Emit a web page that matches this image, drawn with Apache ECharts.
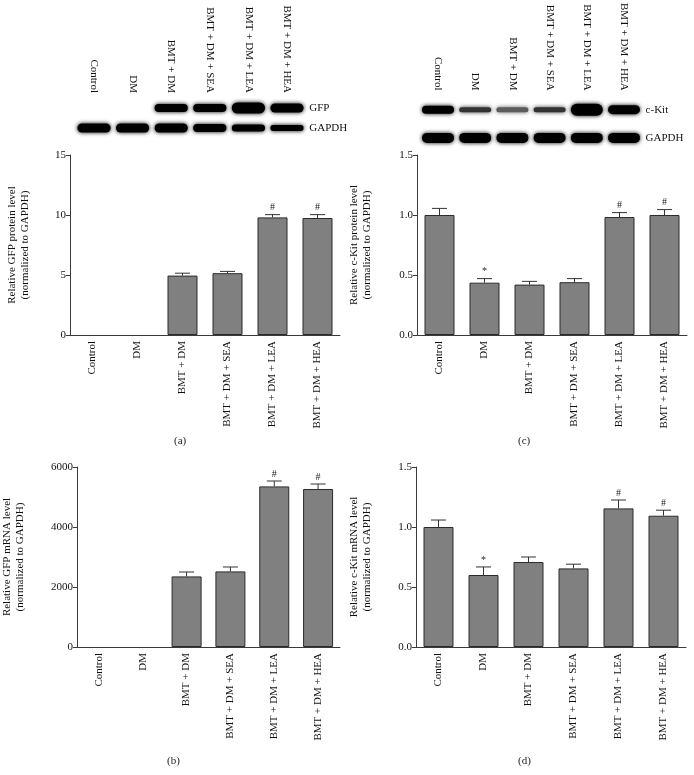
<!DOCTYPE html>
<html><head><meta charset="utf-8">
<script src="https://cdn.jsdelivr.net/npm/echarts@6/dist/echarts.min.js"></script>
<style>html,body{margin:0;padding:0;background:#fff}#c{width:694px;height:775px}</style>
</head><body><div id="c"></div>
<script>
// ---------- data ----------
var groups = ['Control', 'DM', 'BMT + DM', 'BMT + DM + SEA', 'BMT + DM + LEA', 'BMT + DM + HEA'];

// (a) GFP protein
var gfpProteinMean = [0, 0, 4.95, 5.15, 9.8, 9.75];
var gfpProteinTop  = [0, 0, 5.15, 5.3, 10.03, 10.03];
var gfpProteinSig  = ['', '', '', '', '#', '#'];
// (c) c-Kit protein
var kitProteinMean = [1.0, 0.436, 0.42, 0.44, 0.983, 1.0];
var kitProteinTop  = [1.055, 0.47, 0.447, 0.47, 1.02, 1.045];
var kitProteinSig  = ['', '*', '', '', '#', '#'];
// (b) GFP mRNA
var gfpMrnaMean = [0, 0, 2353, 2520, 5353, 5267];
var gfpMrnaTop  = [0, 0, 2500, 2667, 5533, 5433];
var gfpMrnaSig  = ['', '', '', '', '#', '#'];
// (d) c-Kit mRNA
var kitMrnaMean = [1.0, 0.6, 0.708, 0.655, 1.155, 1.094];
var kitMrnaTop  = [1.058, 0.667, 0.75, 0.69, 1.225, 1.14];
var kitMrnaSig  = ['', '*', '', '', '#', '#'];

// western blot band intensity (0-1) and thickness (px)
var blotARows = ['GAPDH', 'GFP'];
var blotAGfpIntensity   = [0, 0, 1, 1, 1, 1];
var blotAGfpThick       = [0, 0, 8, 8, 11, 9];
var blotAGapdhIntensity = [1, 1, 1, 1, 1, 1];
var blotAGapdhThick     = [9, 9, 9, 8, 7, 6];
var blotCRows = ['GAPDH', 'c-Kit'];
var blotCKitIntensity   = [1, 0.75, 0.55, 0.75, 1, 1];
var blotCKitThick       = [8, 5, 5, 5, 12, 9];
var blotCGapdhIntensity = [1, 1, 1, 1, 1, 1];
var blotCGapdhThick     = [10, 10, 10, 10, 10, 10];

var yTicksA = [0, 5, 10, 15];
var yTicksB = [0, 2000, 4000, 6000];
var yTicksC = [0, 0.5, 1.0, 1.5];

// ---------- styling ----------
var FONT = 'Liberation Serif';
var AX = '#3a3a3a';
var chart = echarts.init(document.getElementById('c'));

var grids = [
  {left: 70, top: 155, width: 270, height: 180},   // a
  {left: 417, top: 155, width: 270, height: 180},  // c
  {left: 70, top: 467, width: 270, height: 180},   // b
  {left: 416, top: 467, width: 270, height: 180},  // d
  {left: 74.7, top: 98, width: 231.6, height: 40}, // blot a
  {left: 419.4, top: 92, width: 223.2, height: 60} // blot c
];

function barX(gi) {
  return {
    type: 'category', gridIndex: gi, data: groups,
    axisLine: {lineStyle: {color: AX, width: 1}},
    axisTick: {alignWithLabel: true, length: 4, lineStyle: {color: AX}},
    axisLabel: {rotate: 90, fontFamily: FONT, fontSize: 11, color: '#111', margin: 6, interval: 0}
  };
}
function barY(gi, ticks, name, gap, dec) {
  var iv = ticks[1] - ticks[0];
  return {
    type: 'value', gridIndex: gi, min: ticks[0], max: ticks[ticks.length - 1], interval: iv,
    name: name, nameLocation: 'middle', nameGap: gap, nameRotate: 90,
    nameTextStyle: {fontFamily: FONT, fontSize: 11, color: '#111', lineHeight: 13},
    axisLine: {show: true, lineStyle: {color: AX, width: 1}},
    axisTick: {show: true, length: 4, lineStyle: {color: AX}},
    axisLabel: {fontFamily: FONT, fontSize: 11, color: '#111', margin: 4,
      formatter: function (v) { return dec ? v.toFixed(dec) : String(v); }},
    splitLine: {show: false}
  };
}
function barSeries(gi, mean) {
  return {
    type: 'bar', xAxisIndex: gi, yAxisIndex: gi, barWidth: 30,
    data: mean.map(function (v) { return {value: v, itemStyle: {borderWidth: v === 0 ? 0 : 1}}; }),
    itemStyle: {color: '#808080', borderColor: '#2b2b2b', borderWidth: 1},
    silent: true, animation: false
  };
}
function errSeries(gi, mean, top, sig) {
  var data = mean.map(function (m, i) { return [i, m, top[i], sig[i]]; });
  return {
    type: 'custom', xAxisIndex: gi, yAxisIndex: gi, data: data, silent: true, animation: false,
    z: 5,
    renderItem: function (params, api) {
      var i = api.value(0), m = api.value(1), t = api.value(2);
      var s = data[params.dataIndex][3];
      var children = [];
      if (t > m) {
        var p0 = api.coord([i, m]), p1 = api.coord([i, t]);
        children.push({type: 'line', shape: {x1: p0[0], y1: p0[1], x2: p1[0], y2: p1[1]}, style: {stroke: '#333', lineWidth: 1}});
        children.push({type: 'line', shape: {x1: p1[0] - 7.5, y1: p1[1], x2: p1[0] + 7.5, y2: p1[1]}, style: {stroke: '#333', lineWidth: 1}});
        if (s) {
          children.push({type: 'text', style: {text: s, x: p1[0], y: p1[1] - 2, textAlign: 'center', textVerticalAlign: 'bottom',
            font: '10px "' + FONT + '"', fill: '#222'}});
        }
      }
      return {type: 'group', children: children};
    }
  };
}
function blotX(gi) {
  return {
    type: 'category', gridIndex: gi, data: groups, position: 'top',
    axisLine: {show: false}, axisTick: {show: false},
    axisLabel: {rotate: 90, fontFamily: FONT, fontSize: 11, color: '#111', margin: 5, interval: 0}
  };
}
function blotY(gi, rows) {
  return {
    type: 'category', gridIndex: gi, data: rows, position: 'right',
    axisLine: {show: false}, axisTick: {show: false},
    axisLabel: {fontFamily: FONT, fontSize: 11, color: '#111', margin: 3, align: 'left'}
  };
}
function blotSeries(gi, rowsData) {
  var data = [];
  rowsData.forEach(function (r, ri) {
    r[0].forEach(function (v, li) { data.push([li, ri, v, r[1][li]]); });
  });
  return {
    type: 'custom', xAxisIndex: gi, yAxisIndex: gi, data: data, silent: true, animation: false,
    renderItem: function (params, api) {
      var inten = api.value(2), th = api.value(3);
      if (!inten || !th) return null;
      var c = api.coord([api.value(0), api.value(1)]);
      var w = api.size([1, 0])[0] * 0.86;
      var g = Math.round(255 * (1 - inten) * 0.8);
      var col = 'rgb(' + g + ',' + g + ',' + g + ')';
      return {
        type: 'rect',
        shape: {x: c[0] - w / 2, y: c[1] - th / 2, width: w, height: th, r: th / 2},
        style: {fill: col, shadowBlur: 4, shadowColor: col}
      };
    }
  };
}

var option = {
  backgroundColor: '#fff',
  animation: false,
  grid: grids,
  xAxis: [barX(0), barX(1), barX(2), barX(3), blotX(4), blotX(5)],
  yAxis: [
    barY(0, yTicksA, 'Relative GFP protein level\n(normalized to GAPDH)', 38, 0),
    barY(1, yTicksC, 'Relative c-Kit protein level\n(normalized to GAPDH)', 43, 1),
    barY(2, yTicksB, 'Relative GFP mRNA level\n(normalized to GAPDH)', 50, 0),
    barY(3, yTicksC, 'Relative c-Kit mRNA level\n(normalized to GAPDH)', 42, 1),
    blotY(4, blotARows), blotY(5, blotCRows)
  ],
  series: [
    barSeries(0, gfpProteinMean), errSeries(0, gfpProteinMean, gfpProteinTop, gfpProteinSig),
    barSeries(1, kitProteinMean), errSeries(1, kitProteinMean, kitProteinTop, kitProteinSig),
    barSeries(2, gfpMrnaMean), errSeries(2, gfpMrnaMean, gfpMrnaTop, gfpMrnaSig),
    barSeries(3, kitMrnaMean), errSeries(3, kitMrnaMean, kitMrnaTop, kitMrnaSig),
    blotSeries(4, [[blotAGapdhIntensity, blotAGapdhThick], [blotAGfpIntensity, blotAGfpThick]]),
    blotSeries(5, [[blotCGapdhIntensity, blotCGapdhThick], [blotCKitIntensity, blotCKitThick]])
  ],
  graphic: [
    {type: 'text', left: 174, top: 436, style: {text: '(a)', font: '11px "' + FONT + '"', fill: '#222'}},
    {type: 'text', left: 518, top: 436, style: {text: '(c)', font: '11px "' + FONT + '"', fill: '#222'}},
    {type: 'text', left: 167, top: 756, style: {text: '(b)', font: '11px "' + FONT + '"', fill: '#222'}},
    {type: 'text', left: 518, top: 756, style: {text: '(d)', font: '11px "' + FONT + '"', fill: '#222'}}
  ]
};
chart.setOption(option);
</script>
</body></html>
